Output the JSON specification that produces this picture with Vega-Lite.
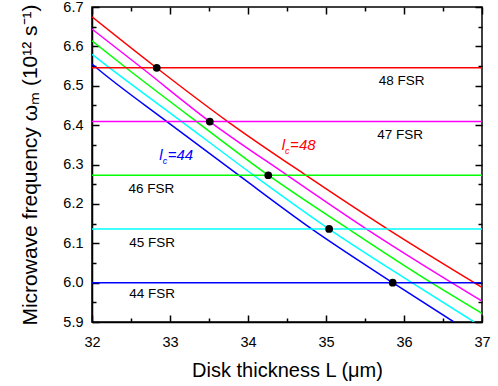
{
  "$schema": "https://vega.github.io/schema/vega-lite/v6.json",
  "autosize": "none",
  "width": 390,
  "height": 315,
  "padding": {"left": 92, "top": 7, "right": 16, "bottom": 64},
  "background": "white",
  "config": {
    "view": {"stroke": "black", "strokeWidth": 1.5},
    "font": "Liberation Sans",
    "axis": {
      "domainColor": "black", "domainWidth": 1.5, "tickColor": "black", "tickWidth": 1.5,
      "labelFont": "Liberation Sans", "labelFontSize": 14.5, "labelColor": "black", "labelFlush": false,
      "titleFont": "Liberation Sans", "titleFontSize": 20, "titleFontWeight": "normal", "titleColor": "black",
      "grid": false
    }
  },
  "datasets": {
    "curves": [
      {"s": "48", "L": 32, "w": 6.675}, {"s": "48", "L": 32.83, "w": 6.545}, {"s": "48", "L": 33.74, "w": 6.409}, {"s": "48", "L": 34.74, "w": 6.273}, {"s": "48", "L": 35.79, "w": 6.136}, {"s": "48", "L": 36.9, "w": 6.0}, {"s": "48", "L": 37, "w": 5.988},
      {"s": "47", "L": 32, "w": 6.644}, {"s": "47", "L": 32.64, "w": 6.545}, {"s": "47", "L": 33.51, "w": 6.409}, {"s": "47", "L": 34.5, "w": 6.273}, {"s": "47", "L": 35.52, "w": 6.136}, {"s": "47", "L": 36.61, "w": 6.0}, {"s": "47", "L": 37, "w": 5.953},
      {"s": "46", "L": 32, "w": 6.614}, {"s": "46", "L": 32.44, "w": 6.545}, {"s": "46", "L": 33.34, "w": 6.409}, {"s": "46", "L": 34.26, "w": 6.273}, {"s": "46", "L": 35.29, "w": 6.136}, {"s": "46", "L": 36.35, "w": 6.0}, {"s": "46", "L": 37, "w": 5.922},
      {"s": "45", "L": 32, "w": 6.58}, {"s": "45", "L": 32.23, "w": 6.545}, {"s": "45", "L": 33.15, "w": 6.409}, {"s": "45", "L": 34.07, "w": 6.273}, {"s": "45", "L": 35.04, "w": 6.136}, {"s": "45", "L": 36.1, "w": 6.0}, {"s": "45", "L": 36.9, "w": 5.9},
      {"s": "44", "L": 32, "w": 6.555}, {"s": "44", "L": 32.06, "w": 6.545}, {"s": "44", "L": 32.96, "w": 6.409}, {"s": "44", "L": 33.88, "w": 6.273}, {"s": "44", "L": 34.82, "w": 6.136}, {"s": "44", "L": 35.855, "w": 6.0}, {"s": "44", "L": 36.64, "w": 5.9}
    ],
    "hlines": [
      {"s": "44", "w": 6.0, "L0": 32, "L1": 37},
      {"s": "45", "w": 6.1364, "L0": 32, "L1": 37},
      {"s": "46", "w": 6.2727, "L0": 32, "L1": 37},
      {"s": "47", "w": 6.4091, "L0": 32, "L1": 37},
      {"s": "48", "w": 6.5455, "L0": 32, "L1": 37}
    ],
    "dots": [
      {"L": 32.83, "w": 6.5455}, {"L": 33.51, "w": 6.4091}, {"L": 34.26, "w": 6.2727}, {"L": 35.04, "w": 6.1364}, {"L": 35.855, "w": 6.0}
    ],
    "fsr": [
      {"label": "48 FSR", "L": 35.97, "w": 6.513},
      {"label": "47 FSR", "L": 35.95, "w": 6.376},
      {"label": "46 FSR", "L": 32.76, "w": 6.238},
      {"label": "45 FSR", "L": 32.77, "w": 6.101},
      {"label": "44 FSR", "L": 32.77, "w": 5.972}
    ],
    "lc": [
      {"s": "44", "t": "=44", "L": 32.97, "w": 6.312},
      {"s": "48", "t": "=48", "L": 34.54, "w": 6.338}
    ]
  },
  "layer": [
    {
      "data": {"name": "curves"},
      "mark": {"type": "line", "strokeWidth": 1.5, "interpolate": "monotone", "clip": true},
      "encoding": {
        "x": {"field": "L", "type": "quantitative", "scale": {"domain": [32, 37], "nice": false, "zero": false},
          "axis": {"orient": "bottom", "values": [32, 33, 34, 35, 36, 37], "format": "d", "ticks": false, "labelPadding": 13, "title": "Disk thickness L (μm)", "titlePadding": 12}},
        "y": {"field": "w", "type": "quantitative", "scale": {"domain": [5.9, 6.7], "nice": false, "zero": false},
          "axis": {"orient": "left", "values": [5.9, 6.0, 6.1, 6.2, 6.3, 6.4, 6.5, 6.6, 6.7], "format": ".1f", "ticks": false, "labelPadding": 9, "title": "Microwave frequency ωₘ (10¹² s⁻¹)", "titleFontSize": 21, "titlePadding": 22}},
        "color": {"field": "s", "type": "nominal", "scale": {"domain": ["44", "45", "46", "47", "48"], "range": ["#0000FF", "#00FFFF", "#00FF00", "#FF00FF", "#FF0000"]}, "legend": null},
        "detail": {"field": "s"}
      }
    },
    {
      "data": {"name": "hlines"},
      "mark": {"type": "rule", "strokeWidth": 1.5, "clip": true},
      "encoding": {
        "x": {"field": "L0", "type": "quantitative", "axis": {"orient": "bottom", "values": [32, 33, 34, 35, 36, 37], "offset": -7, "tickSize": 7, "labels": false, "title": null, "domain": false}},
        "x2": {"field": "L1"},
        "y": {"field": "w", "type": "quantitative", "axis": {"orient": "left", "values": [5.9, 6.0, 6.1, 6.2, 6.3, 6.4, 6.5, 6.6, 6.7], "offset": -7, "tickSize": 7, "labels": false, "title": null, "domain": false}},
        "color": {"field": "s", "type": "nominal", "legend": null}
      }
    },
    {
      "data": {"name": "dots"},
      "mark": {"type": "point", "filled": true, "color": "black", "size": 60, "opacity": 1},
      "encoding": {
        "x": {"field": "L", "type": "quantitative", "axis": {"orient": "bottom", "values": [32.5, 33.5, 34.5, 35.5, 36.5], "offset": -4, "tickSize": 4, "labels": false, "title": null, "domain": false}},
        "y": {"field": "w", "type": "quantitative", "axis": {"orient": "left", "values": [5.95, 6.05, 6.15, 6.25, 6.35, 6.45, 6.55, 6.65], "offset": -4, "tickSize": 4, "labels": false, "title": null, "domain": false}}
      }
    },
    {
      "data": {"name": "fsr"},
      "mark": {"type": "text", "fontSize": 13.5, "color": "black", "align": "center", "baseline": "middle", "font": "Liberation Sans"},
      "encoding": {
        "x": {"field": "L", "type": "quantitative", "axis": {"orient": "top", "values": [32, 33, 34, 35, 36, 37], "offset": -7, "tickSize": 7, "labels": false, "title": null, "domain": false}},
        "y": {"field": "w", "type": "quantitative", "axis": {"orient": "right", "values": [5.9, 6.0, 6.1, 6.2, 6.3, 6.4, 6.5, 6.6, 6.7], "offset": -7, "tickSize": 7, "labels": false, "title": null, "domain": false}},
        "text": {"field": "label"}
      }
    },
    {
      "data": {"name": "lc"},
      "mark": {"type": "text", "fontSize": 15, "fontStyle": "italic", "align": "left", "baseline": "alphabetic", "font": "Liberation Sans"},
      "encoding": {
        "x": {"field": "L", "type": "quantitative", "axis": {"orient": "top", "values": [32.5, 33.5, 34.5, 35.5, 36.5], "offset": -4, "tickSize": 4, "labels": false, "title": null, "domain": false}},
        "y": {"field": "w", "type": "quantitative", "axis": {"orient": "right", "values": [5.95, 6.05, 6.15, 6.25, 6.35, 6.45, 6.55, 6.65], "offset": -4, "tickSize": 4, "labels": false, "title": null, "domain": false}},
        "text": {"field": "t"},
        "color": {"field": "s", "type": "nominal", "legend": null}
      }
    },
    {
      "data": {"name": "lc"},
      "mark": {"type": "text", "fontSize": 15, "fontStyle": "italic", "align": "right", "baseline": "alphabetic", "dx": -5, "text": "l", "font": "Liberation Sans"},
      "encoding": {
        "x": {"field": "L", "type": "quantitative", "axis": null},
        "y": {"field": "w", "type": "quantitative", "axis": null},
        "color": {"field": "s", "type": "nominal", "legend": null}
      }
    },
    {
      "data": {"name": "lc"},
      "mark": {"type": "text", "fontSize": 9, "fontStyle": "italic", "align": "left", "baseline": "alphabetic", "dx": -5, "dy": 4, "text": "c", "font": "Liberation Sans"},
      "encoding": {
        "x": {"field": "L", "type": "quantitative", "axis": null},
        "y": {"field": "w", "type": "quantitative", "axis": null},
        "color": {"field": "s", "type": "nominal", "legend": null}
      }
    }
  ],
  "resolve": {"axis": {"x": "independent", "y": "independent"}}
}
